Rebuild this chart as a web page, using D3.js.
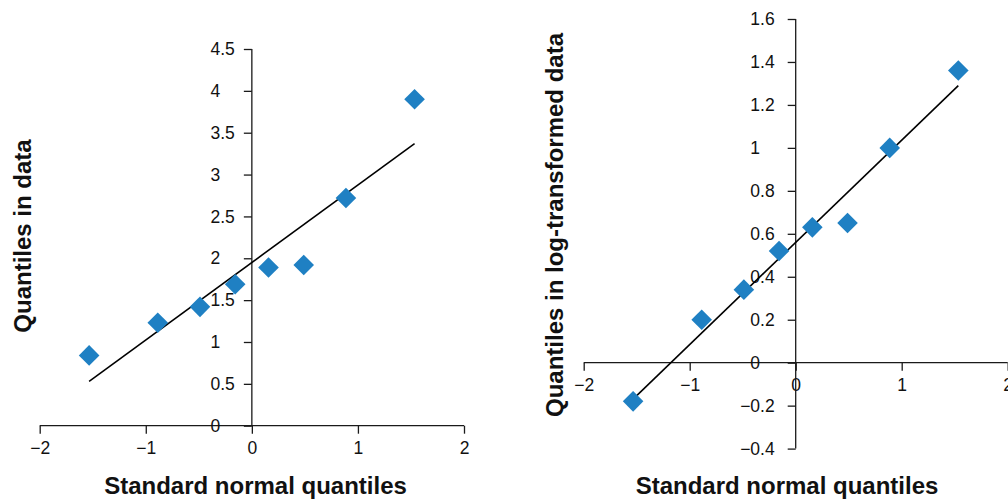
<!DOCTYPE html>
<html>
<head>
<meta charset="utf-8">
<script src="https://cdn.jsdelivr.net/npm/d3@7"></script>
<style>
  html, body { margin: 0; padding: 0; background: #fff; }
  svg { display: block; font-family: "Liberation Sans", Arial, sans-serif; }
  .tl { font-size: 17.5px !important; font-family: "Liberation Sans", Arial, sans-serif !important; }
</style>
</head>
<body>
<svg id="chart" width="1008" height="499"></svg>
<script>
// ---- data ----
const normalQuantiles = [-1.534, -0.887, -0.489, -0.157, 0.157, 0.489, 0.887, 1.534];
const dataQuantiles = [0.84, 1.23, 1.42, 1.69, 1.89, 1.92, 2.72, 3.90];
const logQuantiles = [-0.18, 0.20, 0.34, 0.52, 0.63, 0.65, 1.00, 1.36];
const fitX = [-1.534, 1.534];
const fitDataY = [0.53, 3.37];
const fitLogY = [-0.17, 1.29];
const xTicks = [-2, -1, 0, 1, 2];
const yTicksLeft = [0, 0.5, 1, 1.5, 2, 2.5, 3, 3.5, 4, 4.5];
const yTicksRight = [-0.4, -0.2, 0, 0.2, 0.4, 0.6, 0.8, 1, 1.2, 1.4, 1.6];
const xTitle = "Standard normal quantiles";
const yTitleLeft = "Quantiles in data";
const yTitleRight = "Quantiles in log-transformed data";

const svg = d3.select("#chart");
const blue = "#1f80c3";
const axisColor = "#1a1a1a";
const tickFont = 17.5;
const minus = s => s.replace("-", "\u2212");

function panel(cfg) {
  const g = svg.append("g");
  const x = cfg.x, y = cfg.y;
  const x0 = x(0), y0 = y(0);

  const xa = g.append("g").attr("transform", `translate(0,${y0})`)
    .call(d3.axisBottom(x).tickValues(xTicks).tickSize(8).tickPadding(12)
      .tickFormat(d => minus(String(d))));
  const ya = g.append("g").attr("transform", `translate(${x0},0)`)
    .call(d3.axisLeft(y).tickValues(cfg.yTicks).tickSize(8).tickPadding(cfg.ypad)
      .tickFormat(d => minus(String(d))));

  [xa, ya].forEach(a => {
    a.attr("font-size", tickFont).attr("font-family", "Liberation Sans, Arial, sans-serif");
    a.select(".domain").attr("stroke", axisColor).attr("stroke-width", 1.3);
    a.selectAll(".tick line").attr("stroke", axisColor).attr("stroke-width", 1.3);
    a.selectAll(".tick text").attr("class", "tl").attr("fill", "#111")
      .attr("font-size", tickFont);
  });
  xa.select(".domain").attr("d", `M${x.range()[0]},0H${x.range()[1]}`);
  ya.select(".domain").attr("d", `M0,${y.range()[0]}V${y.range()[1]}`);
  xa.selectAll(".tick text").attr("y", 16).attr("dy", "0.71em");
  ya.selectAll(".tick text")
    .attr("dx", d => Number.isInteger(d) ? -(0.834 * tickFont) : 0);

  g.append("line")
    .attr("x1", x(fitX[0])).attr("y1", y(cfg.fitY[0]))
    .attr("x2", x(fitX[1])).attr("y2", y(cfg.fitY[1]))
    .attr("stroke", "#000").attr("stroke-width", 1.6);

  const sym = d3.symbol().type(d3.symbolSquare).size(212);
  g.selectAll("path.pt").data(normalQuantiles.map((q, i) => [q, cfg.vals[i]]))
    .join("path").attr("class", "pt")
    .attr("d", sym)
    .attr("transform", d => `translate(${x(d[0])},${y(d[1])}) rotate(45)`)
    .attr("fill", blue);

  g.append("text").text(xTitle)
    .attr("x", cfg.xTitleX).attr("y", 494)
    .attr("text-anchor", "middle")
    .attr("font-size", 24).attr("font-weight", "bold").attr("fill", "#111");
  g.append("text").text(cfg.yTitle)
    .attr("transform", `translate(${cfg.yTitleX},${cfg.yTitleY}) rotate(-90)`)
    .attr("text-anchor", "middle")
    .attr("font-size", 24).attr("font-weight", "bold").attr("fill", "#111");
}

panel({
  x: d3.scaleLinear().domain([-2, 2]).range([39.7, 464]),
  y: d3.scaleLinear().domain([0, 4.5]).range([425.7, 49]),
  yTicks: yTicksLeft, vals: dataQuantiles, fitY: fitDataY, ypad: 9,
  xTitleX: 255.5, yTitle: yTitleLeft, yTitleX: 30.5, yTitleY: 236
});

panel({
  x: d3.scaleLinear().domain([-2, 2]).range([583.7, 1007.7]),
  y: d3.scaleLinear().domain([-0.4, 1.6]).range([448.6, 19]),
  yTicks: yTicksRight, vals: logQuantiles, fitY: fitLogY, ypad: 13,
  xTitleX: 787, yTitle: yTitleRight, yTitleX: 562.5, yTitleY: 225
});
</script>
</body>
</html>
